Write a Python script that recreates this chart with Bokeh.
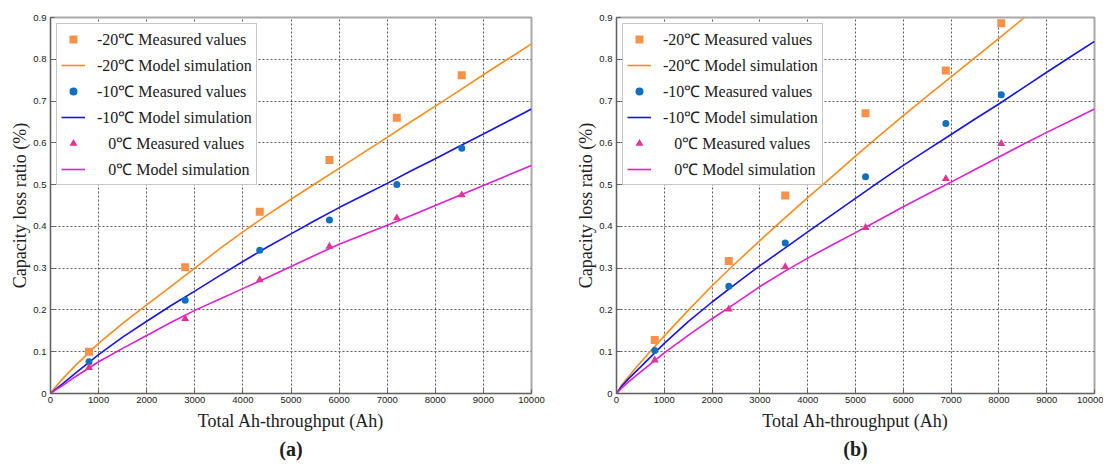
from bokeh.plotting import figure
from bokeh.layouts import row
from bokeh.models import (Range1d, FixedTicker, CustomJSTickFormatter, Legend,
                          LegendItem, Title)
from bokeh.embed import file_html
from bokeh.resources import INLINE

# ---------------- data ----------------
# measured points, panel (a)
a_x = [800, 2800, 4350, 5800, 7200, 8550]
a_m20 = [0.100, 0.302, 0.435, 0.559, 0.660, 0.762]
a_m10 = [0.076, 0.223, 0.343, 0.415, 0.500, 0.587]
a_0 = [0.062, 0.179, 0.272, 0.352, 0.420, 0.475]

# measured points, panel (b)
b_x = [800, 2350, 3530, 5210, 6890, 8050]
b_m20 = [0.128, 0.317, 0.474, 0.671, 0.773, 0.886]
b_m10 = [0.103, 0.257, 0.360, 0.519, 0.646, 0.715]
b_0 = [0.080, 0.202, 0.303, 0.397, 0.514, 0.598]

# model simulation curves
sim_x = [0, 100, 250, 500, 1000, 1500, 2000, 2500, 3000, 3500, 4000, 4500,
         5000, 5500, 6000, 6500, 7000, 7500, 8000, 8500, 9000, 9500, 10000]
a_sim_m20 = [0, 0.015, 0.035, 0.065, 0.120, 0.168, 0.212, 0.256, 0.300, 0.345,
             0.387, 0.427, 0.465, 0.502, 0.539, 0.576, 0.613, 0.651, 0.688,
             0.725, 0.763, 0.800, 0.837]
a_sim_m10 = [0, 0.010, 0.023, 0.047, 0.093, 0.135, 0.173, 0.210, 0.245, 0.281,
             0.316, 0.350, 0.382, 0.414, 0.445, 0.474, 0.503, 0.533, 0.562,
             0.592, 0.621, 0.651, 0.681]
a_sim_0 = [0, 0.008, 0.019, 0.039, 0.076, 0.108, 0.139, 0.170, 0.199, 0.225,
           0.251, 0.277, 0.304, 0.331, 0.357, 0.380, 0.403, 0.426, 0.450,
           0.474, 0.498, 0.522, 0.546]
b_sim_m20 = [0, 0.019, 0.040, 0.074, 0.138, 0.199, 0.258, 0.313, 0.366, 0.418,
             0.469, 0.518, 0.568, 0.617, 0.665, 0.712, 0.758, 0.804, 0.850,
             0.897, 0.945, 0.992, 1.039]
b_sim_m10 = [0, 0.016, 0.035, 0.063, 0.120, 0.172, 0.219, 0.263, 0.306, 0.346,
             0.387, 0.427, 0.467, 0.507, 0.546, 0.583, 0.620, 0.657, 0.693,
             0.731, 0.769, 0.806, 0.843]
b_sim_0 = [0, 0.012, 0.028, 0.051, 0.097, 0.139, 0.179, 0.217, 0.256, 0.291,
           0.324, 0.355, 0.385, 0.416, 0.447, 0.477, 0.506, 0.536, 0.566,
           0.596, 0.625, 0.653, 0.681]

x_ticks = [0, 1000, 2000, 3000, 4000, 5000, 6000, 7000, 8000, 9000, 10000]
y_ticks = [0, 0.1, 0.2, 0.3, 0.4, 0.5, 0.6, 0.7, 0.8, 0.9]

labels = ["-20\u2103 Measured values", "-20\u2103 Model simulation",
          "-10\u2103 Measured values", "-10\u2103 Model simulation",
          "\u2007\u20090\u2103 Measured values", "\u2007\u20090\u2103 Model simulation"]
caption_a = "(a)"
caption_b = "(b)"
x_label = "Total Ah-throughput (Ah)"
y_label = "Capacity loss ratio (%)"

# ---------------- style ----------------
C_OR_M = "#F9914A"
C_OR_L = "#FF8C1A"
C_BL_M = "#1070C0"
C_BL_L = "#1515F0"
C_MG_M = "#E03596"
C_MG_L = "#E020D0"
SERIF = "Liberation Serif"
SANS = "Liberation Sans"


def make_panel(xm, m20, m10, m0, s20, s10, s0, caption, left, right, width):
    p = figure(width=width, height=463, output_backend="svg",
               toolbar_location=None, x_range=Range1d(0, 10000),
               y_range=Range1d(0, 0.9), min_border_left=left,
               min_border_right=right, min_border_top=17,
               min_border_bottom=70)
    p.background_fill_color = "white"
    p.border_fill_color = "white"
    p.outline_line_color = "#A8A8A8"
    p.outline_line_width = 2

    for ax in (p.xaxis[0], p.yaxis[0]):
        ax.axis_line_color = "#606060"
        ax.axis_line_width = 1
        ax.major_tick_in = 4
        ax.major_tick_out = 0
        ax.minor_tick_line_color = None
        ax.major_tick_line_color = "#606060"
        ax.major_label_text_font = SANS
        ax.major_label_text_font_size = "9.5px"
        ax.major_label_text_color = "#202020"
        ax.axis_label_text_font = SERIF
        ax.axis_label_text_font_style = "normal"
        ax.axis_label_text_font_size = "18px"
        ax.axis_label_text_color = "#202020"

    xt = FixedTicker(ticks=x_ticks)
    yt = FixedTicker(ticks=y_ticks)
    p.xaxis.ticker = xt
    p.yaxis.ticker = yt
    p.xgrid.ticker = xt
    p.ygrid.ticker = yt
    p.yaxis.formatter = CustomJSTickFormatter(
        code="return tick == 0 ? '0' : tick.toFixed(1);")
    p.xaxis.formatter = CustomJSTickFormatter(code="return tick.toFixed(0);")
    p.xaxis.major_label_standoff = 3
    p.yaxis.major_label_standoff = 4
    p.xaxis.axis_label_standoff = 5
    p.yaxis.axis_label_standoff = 0
    p.xaxis.axis_label = x_label
    p.yaxis.axis_label = y_label

    for g in (p.xgrid[0], p.ygrid[0]):
        g.grid_line_color = "#5A5A5A"
        g.grid_line_alpha = 1.0
        g.grid_line_dash = "2 2"
        g.grid_line_width = 1

    l20 = p.line(sim_x, s20, line_color=C_OR_L, line_width=1.6)
    l10 = p.line(sim_x, s10, line_color=C_BL_L, line_width=1.6)
    l0 = p.line(sim_x, s0, line_color=C_MG_L, line_width=1.6)
    r20 = p.scatter(xm, m20, marker="square", size=8, fill_color=C_OR_M,
                    line_color=None)
    r10 = p.scatter(xm, m10, marker="circle", size=7, fill_color=C_BL_M,
                    line_color=None)
    r0 = p.scatter(xm, m0, marker="triangle", size=8, fill_color=C_MG_M,
                   line_color=None)

    items = [LegendItem(label=labels[0], renderers=[r20]),
             LegendItem(label=labels[1], renderers=[l20]),
             LegendItem(label=labels[2], renderers=[r10]),
             LegendItem(label=labels[3], renderers=[l10]),
             LegendItem(label=labels[4], renderers=[r0]),
             LegendItem(label=labels[5], renderers=[l0])]
    leg = Legend(items=items, location="top_left", margin=6, padding=4,
                 spacing=4, glyph_width=24, glyph_height=20, label_height=20,
                 label_standoff=12, label_text_font=SERIF,
                 label_text_font_size="16px", label_text_color="#202020",
                 border_line_color="#909090", border_line_width=1,
                 background_fill_color="white", background_fill_alpha=1)
    p.add_layout(leg)

    t = Title(text=caption, align="center", text_font=SERIF,
              text_font_size="20px", text_font_style="bold",
              text_color="#202020", standoff=4)
    p.add_layout(t, "below")
    return p


pa = make_panel(a_x, a_m20, a_m10, a_0, a_sim_m20, a_sim_m10, a_sim_0,
                caption_a, 50, 37, 568)
pb = make_panel(b_x, b_m20, b_m10, b_0, b_sim_m20, b_sim_m10, b_sim_0,
                caption_b, 48, 9, 535)

layout = row(pa, pb)
open("out.html", "w").write(file_html(layout, INLINE))
